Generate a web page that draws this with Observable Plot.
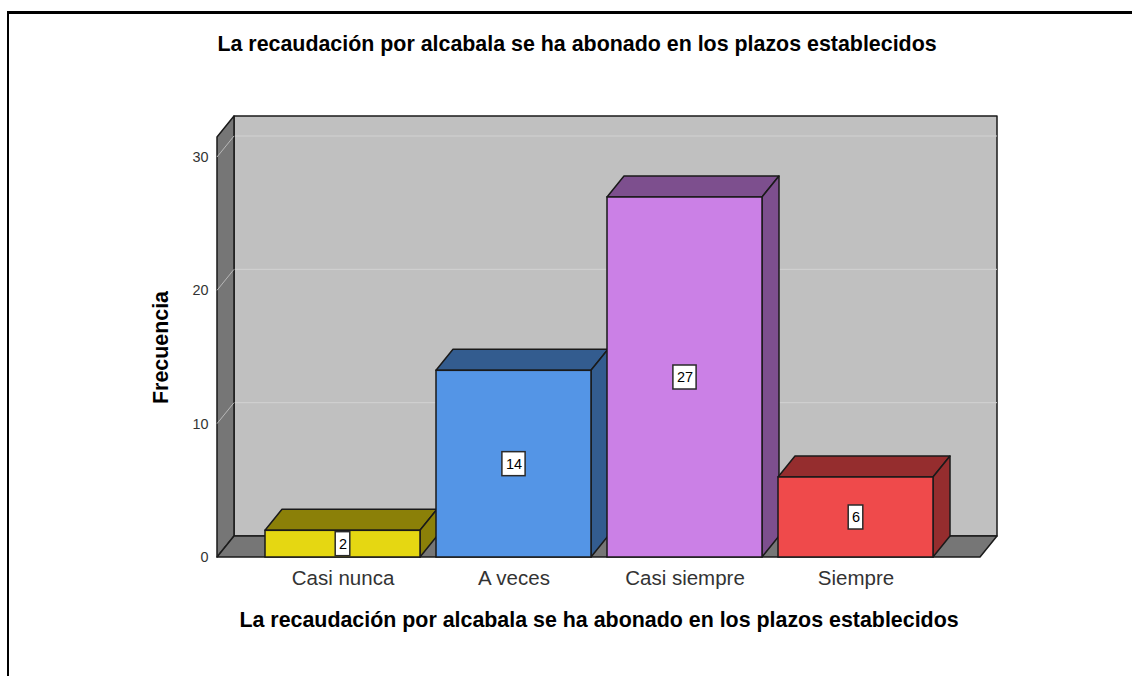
<!DOCTYPE html>
<html><head><meta charset="utf-8">
<script src="https://cdn.jsdelivr.net/npm/d3@7"></script>
<script src="https://cdn.jsdelivr.net/npm/@observablehq/plot@0.6"></script>
<style>
body{margin:0;background:#fff;font-family:"Liberation Sans",Arial,sans-serif;}
#wrap{position:relative;width:1132px;height:676px;overflow:hidden;background:#fff;}
#frame{position:absolute;left:7px;top:11px;width:1300px;height:900px;border-top:3px solid #000;border-left:2px solid #000;}
#chart{position:absolute;left:0;top:0;}
</style></head><body>
<div id="wrap"><div id="frame"></div><div id="chart"></div></div>
<script>
const categories = ["Casi nunca", "A veces", "Casi siempre", "Siempre"];
const frequencies = [2, 14, 27, 6];
const frontColors = ["#e5d712", "#5495e6", "#cb80e6", "#ef4a4b"];
const shadeColors = ["#8b8008", "#335c8f", "#7d4f8e", "#952d2e"];
const yTicks = [0, 10, 20, 30];
const titleText = "La recaudación por alcabala se ha abonado en los plazos establecidos";
const xLabel = "La recaudación por alcabala se ha abonado en los plazos establecidos";
const yLabel = "Frecuencia";
const yMax = 31.5;

const DX = 17, DY = 21;
const EDGE = "#1a1a1a";
const FONT = "'Liberation Sans', Arial, sans-serif";
const data = categories.map((c, i) => ({c, v: frequencies[i], front: frontColors[i], shade: shadeColors[i]}));

function poly(g, pts, fill, stroke, sw) {
  g.append("path")
    .attr("d", "M" + pts.map(p => p.join(",")).join("L") + "Z")
    .attr("fill", fill).attr("stroke", stroke || "none").attr("stroke-width", sw || 0)
    .attr("stroke-linejoin", "round");
}

function walls(index, scales, values, dim) {
  const y = scales.y;
  const x0 = dim.marginLeft, x1 = dim.width - dim.marginRight;
  const yb = y(0), yt = y(yMax);
  const g = d3.create("svg:g");
  // back wall
  poly(g, [[x0 + DX, yt - DY], [x1 + DX, yt - DY], [x1 + DX, yb - DY], [x0 + DX, yb - DY]], "#c0c0c0", EDGE, 1.5);
  // gridlines on back wall
  for (const t of yTicks) {
    if (t === 0) continue;
    g.append("line").attr("x1", x0 + DX).attr("x2", x1 + DX).attr("y1", y(t) - DY).attr("y2", y(t) - DY)
      .attr("stroke", "#d2d2d2").attr("stroke-width", 1);
  }
  // side wall
  poly(g, [[x0, yb], [x0, yt], [x0 + DX, yt - DY], [x0 + DX, yb - DY]], "#767676", EDGE, 1.5);
  for (const t of yTicks) {
    g.append("line").attr("x1", x0).attr("x2", x0 + DX).attr("y1", y(t)).attr("y2", y(t) - DY)
      .attr("stroke", "#b8b8b8").attr("stroke-width", 1);
  }
  // floor
  poly(g, [[x0, yb], [x1, yb], [x1 + DX, yb - DY], [x0 + DX, yb - DY]], "#767676", EDGE, 1.5);
  return g.node();
}

function barShades(index, scales, values, dim) {
  const x = scales.x, y = scales.y;
  const bw = x.bandwidth();
  const yb = y(0);
  const g = d3.create("svg:g");
  for (const d of data) {
    const bx0 = x(d.c), bx1 = bx0 + bw, by = y(d.v);
    poly(g, [[bx0, by], [bx1, by], [bx1 + DX, by - DY], [bx0 + DX, by - DY]], d.shade, EDGE, 1.5);
    poly(g, [[bx1, by], [bx1, yb], [bx1 + DX, yb - DY], [bx1 + DX, by - DY]], d.shade, EDGE, 1.5);
  }
  return g.node();
}

function labelBoxes(index, scales, values, dim) {
  const x = scales.x, y = scales.y;
  const bw = x.bandwidth();
  const g = d3.create("svg:g");
  for (const d of data) {
    const cx = x(d.c) + bw / 2, cy = y(d.v / 2);
    const w = 6 + 8.6 * String(d.v).length, h = 24;
    g.append("rect").attr("x", cx - w / 2).attr("y", cy - h / 2).attr("width", w).attr("height", h)
      .attr("fill", "#fff").attr("stroke", "#2a2a2a").attr("stroke-width", 1.5);
  }
  return g.node();
}

const chart = Plot.plot({
  width: 1132,
  height: 676,
  marginLeft: 217,
  marginRight: 152,
  marginTop: 137,
  marginBottom: 119,
  style: {fontFamily: FONT, background: "transparent", overflow: "visible"},
  x: {type: "band", domain: categories, paddingInner: 0.0962, paddingOuter: 0.273},
  y: {domain: [0, yMax]},
  color: {type: "identity"},
  marks: [
    walls,
    barShades,
    Plot.barY(data, {x: "c", y: "v", fill: "front", stroke: EDGE, strokeWidth: 1.5, inset: 0}),
    labelBoxes,
    Plot.text(data, {x: "c", y: d => d.v / 2, text: d => String(d.v), fontSize: 14.5, fill: "#000"}),
    Plot.axisY({ticks: yTicks, tickSize: 0, tickPadding: 9, fontSize: 14.4, label: null, color: "#333"}),
    Plot.axisX({tickSize: 0, tickPadding: 13, fontSize: 20.5, label: null, color: "#333"}),
    Plot.text([titleText], {text: d => d, frameAnchor: "top", textAnchor: "middle", lineAnchor: "middle", dx: -22, dy: -93, fontSize: 21.4, fontWeight: "bold", fill: "#000"}),
    Plot.text([xLabel], {text: d => d, frameAnchor: "bottom", textAnchor: "middle", lineAnchor: "middle", dy: 63, fontSize: 21.4, fontWeight: "bold", fill: "#000"}),
    Plot.text([yLabel], {text: d => d, frameAnchor: "left", textAnchor: "middle", lineAnchor: "middle", dx: -56, rotate: -90, fontSize: 21.4, fontWeight: "bold", fill: "#000"})
  ]
});
document.getElementById("chart").appendChild(chart);
</script>
</body></html>
